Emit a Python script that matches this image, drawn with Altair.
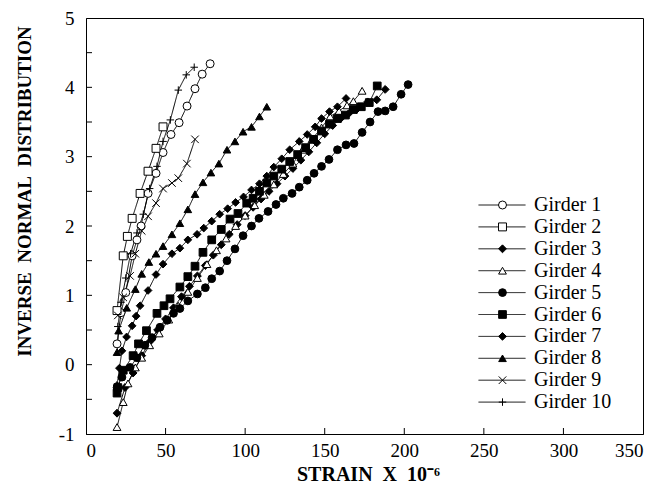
import altair as alt
import pandas as pd

girders = [f"Girder {i}" for i in range(1, 11)]

g1_x = [19.5, 22, 25, 29, 32, 34.6, 39, 44, 48.4, 53.4, 58.5, 63.5, 68.5, 73, 78]
g1_y = [0.30, 0.75, 1.04, 1.57, 1.80, 2.00, 2.47, 2.76, 3.06, 3.32, 3.49, 3.73, 3.98, 4.19, 4.34]

g2_x = [19.5, 23.4, 26, 29, 34, 39, 44, 48.4]
g2_y = [0.78, 1.57, 1.85, 2.11, 2.47, 2.79, 3.12, 3.43]

g3_x = [19.5, 24.5, 29.6, 35, 40, 45, 50, 55, 60, 65, 70, 75, 80, 85, 90, 95, 100, 105, 110,
        115, 120, 125, 130, 135, 140, 145, 150, 155, 160, 165, 170, 177, 182.7, 188]
g3_y = [-0.70, -0.33, -0.12, 0.13, 0.33, 0.50, 0.66, 0.82, 0.98, 1.13, 1.28, 1.43, 1.58, 1.73,
        1.88, 2.02, 2.15, 2.27, 2.39, 2.50, 2.61, 2.72, 2.83, 2.95, 3.07, 3.20, 3.33, 3.45,
        3.55, 3.62, 3.68, 3.79, 3.82, 3.97]

g4_x = [19.5, 23.4, 26.4, 31, 35, 40, 46, 52, 58, 64, 70, 76, 82, 88, 94, 100, 106, 112, 118,
        124, 130, 136, 142, 148, 153.4, 159, 164, 168, 173.5]
g4_y = [-0.90, -0.54, -0.27, -0.04, 0.10, 0.28, 0.45, 0.65, 0.85, 1.05, 1.25, 1.45, 1.65, 1.82,
        2.00, 2.15, 2.30, 2.45, 2.60, 2.75, 2.90, 3.10, 3.25, 3.42, 3.58, 3.66, 3.74, 3.80, 3.95]

g5_x = [19.5, 22.6, 27.7, 32, 37, 41.5, 46.5, 51, 55, 59, 64, 70, 75, 79, 84, 88.6, 93.6, 98.7,
        104, 108.7, 114.4, 119.4, 124, 129.5, 134, 139, 143.3, 148, 152.7, 158, 163.4, 168.4,
        173.5, 178.5, 183.5, 188, 193, 198, 202.4]
g5_y = [-0.33, -0.18, -0.04, 0.10, 0.28, 0.39, 0.54, 0.64, 0.74, 0.81, 0.92, 1.02, 1.11, 1.24,
        1.35, 1.50, 1.67, 1.86, 2.00, 2.11, 2.21, 2.31, 2.40, 2.47, 2.56, 2.66, 2.76, 2.86,
        2.96, 3.10, 3.17, 3.19, 3.35, 3.50, 3.65, 3.66, 3.72, 3.90, 4.04]

g6_x = [19.5, 20, 23.4, 29.6, 33, 38, 44.6, 49, 52.8, 59, 64, 68.5, 73.5, 79, 85, 90.5, 95.5,
        101, 105, 109, 113.6, 118, 123, 128, 133, 138, 143, 148, 153, 158, 163, 168, 173, 178, 183]
g6_y = [-0.41, -0.33, -0.08, 0.13, 0.30, 0.49, 0.74, 0.85, 0.95, 1.12, 1.27, 1.42, 1.62, 1.80,
        1.95, 2.10, 2.18, 2.33, 2.40, 2.50, 2.62, 2.72, 2.82, 2.93, 3.03, 3.13, 3.25, 3.37,
        3.47, 3.55, 3.60, 3.68, 3.72, 3.78, 4.02]

g7_x = [19.5, 21, 22.6, 25.5, 29, 31.5, 34, 39, 44, 48.4, 54, 59, 64, 69.8, 74, 79, 84, 89, 94,
        99, 104, 109, 113.6, 118, 123, 128, 134, 139, 144, 148, 153, 158, 163.4]
g7_y = [-0.30, -0.05, 0.20, 0.40, 0.56, 0.70, 0.85, 1.07, 1.30, 1.45, 1.60, 1.68, 1.80, 1.88,
        1.97, 2.07, 2.17, 2.25, 2.34, 2.42, 2.52, 2.61, 2.72, 2.85, 2.97, 3.10, 3.22, 3.32,
        3.43, 3.55, 3.65, 3.72, 3.84]

g8_x = [19.5, 20.5, 25.6, 31, 35, 39.5, 44, 48.4, 54, 59, 64, 68.5, 73.5, 78.5, 83.5, 88.6,
        93.6, 98.7, 104, 109, 113.6]
g8_y = [0.18, 0.49, 0.82, 1.09, 1.31, 1.48, 1.60, 1.71, 1.88, 2.04, 2.24, 2.46, 2.63, 2.77,
        2.90, 3.10, 3.22, 3.36, 3.43, 3.58, 3.72]

g9_x = [20, 23.4, 27.7, 31, 35, 39, 44, 48.4, 54, 58, 63.4, 68.5]
g9_y = [0.71, 0.97, 1.28, 1.60, 1.93, 2.14, 2.33, 2.54, 2.62, 2.69, 2.90, 3.25]

g10_x = [20, 22, 25, 28, 32, 36, 40, 44.6, 48.4, 53, 58, 63, 68]
g10_y = [0.55, 0.90, 1.25, 1.60, 1.90, 2.17, 2.54, 2.86, 3.22, 3.53, 3.96, 4.18, 4.29]

x_ticks = [0, 50, 100, 150, 200, 250, 300, 350]
y_ticks = [-1, -0.5, 0, 0.5, 1, 1.5, 2, 2.5, 3, 3.5, 4, 4.5, 5]
y_labels = [-1, 0, 1, 2, 3, 4, 5]

shapes = ["circle", "square", "diamond", "triangle-up", "circle", "square", "diamond",
          "triangle-up", "M-1,-1L1,1M-1,1L1,-1", "M-1,0L1,0M0,-1L0,1"]
fills = ["white", "white", "black", "white", "black", "black", "black", "black", "white", "white"]
strokes = ["black"] * 10
sizes = [64, 56, 30, 56, 90, 80, 36, 56, 50, 30]

series_x = [g1_x, g2_x, g3_x, g4_x, g5_x, g6_x, g7_x, g8_x, g9_x, g10_x]
series_y = [g1_y, g2_y, g3_y, g4_y, g5_y, g6_y, g7_y, g8_y, g9_y, g10_y]

# line legend uses labels with a trailing no-break space so its domain differs
line_names = [g + "\u00a0" for g in girders]

rows = []
for name, lname, xs, ys in zip(girders, line_names, series_x, series_y):
    for xv, yv in zip(xs, ys):
        rows.append({"series": name, "sl": lname, "x": xv, "y": yv})
df = pd.DataFrame(rows)

W, H = 557, 416
SERIF = "Liberation Serif"
NB = "\u00a0"

xscale = alt.Scale(domain=[0, 350], nice=False, zero=False)
yscale = alt.Scale(domain=[-1, 5], nice=False, zero=False)

x_enc = alt.X("x:Q", scale=xscale, axis=alt.Axis(
    values=x_ticks, labelExpr="'' + datum.value", ticks=False, grid=False, labelPadding=7,
    labelFont=SERIF, labelFontSize=19, labelColor="black", domainColor="black",
    title=f"STRAIN{NB}{NB}X{NB}{NB}10\u207b\u2076",
    titleFont=SERIF, titleFontSize=20, titleFontWeight="bold", titleColor="black",
    titleX=282, titleY=40, titleBaseline="middle"))
y_enc = alt.Y("y:Q", scale=yscale, axis=alt.Axis(
    values=y_labels, labelExpr="'' + datum.value", ticks=False, grid=False, labelPadding=12,
    labelFont=SERIF, labelFontSize=19, labelColor="black", domainColor="black",
    title=f"INVERSE{NB}{NB}NORMAL{NB}{NB}DISTRIBUTION", titleFont=SERIF, titleFontSize=19,
    titleFontWeight="bold", titleColor="black", titleAngle=270, titleX=-62, titleY=173,
    titleBaseline="middle", titleAlign="center"))

leg_common = dict(orient="none", legendY=177, title=None, clipHeight=20, rowPadding=1.9,
                  padding=0, labelFont=SERIF, labelFontSize=20, labelColor="black")

lines = alt.Chart(df).mark_line(color="black", strokeWidth=1).encode(
    x=x_enc, y=y_enc,
    strokeDash=alt.StrokeDash("sl:N", scale=alt.Scale(domain=line_names, range=[[1, 0]] * 10),
                              legend=alt.Legend(legendX=392, symbolType="stroke",
                                                symbolSize=2209, symbolStrokeWidth=1,
                                                symbolStrokeColor="black", labelOffset=8,
                                                **leg_common)),
    order="x:Q",
)

leg2 = alt.Legend(legendX=406.5, symbolOpacity=1, labelOpacity=0, labelExpr="''",
                  symbolStrokeWidth=1, **leg_common)

points = alt.Chart(df).mark_point(opacity=1, strokeWidth=1).encode(
    x="x:Q", y="y:Q",
    shape=alt.Shape("series:N", scale=alt.Scale(domain=girders, range=shapes), legend=leg2),
    fill=alt.Fill("series:N", scale=alt.Scale(domain=girders, range=fills), legend=leg2),
    stroke=alt.Stroke("series:N", scale=alt.Scale(domain=girders, range=strokes), legend=leg2),
    size=alt.Size("series:N", scale=alt.Scale(domain=girders, range=sizes), legend=leg2),
)

xt = alt.Chart(pd.DataFrame({"v": x_ticks[1:-1]})).mark_rule(color="black", strokeWidth=1).encode(
    x="v:Q", y=alt.value(H), y2=alt.value(H - 6))
yt = alt.Chart(pd.DataFrame({"v": y_ticks[1:-1]})).mark_rule(color="black", strokeWidth=1).encode(
    y="v:Q", x=alt.value(0), x2=alt.value(6))

chart = alt.layer(lines, points, xt, yt).properties(
    width=W, height=H, autosize=alt.AutoSizeParams(type="none"),
    padding={"left": 78, "top": 10, "right": 10, "bottom": 50},
    background="white",
).configure_view(stroke="black", strokeWidth=1).configure_axis(domainWidth=1)

chart.save("out.html", embed_options={"renderer": "svg", "actions": False})
